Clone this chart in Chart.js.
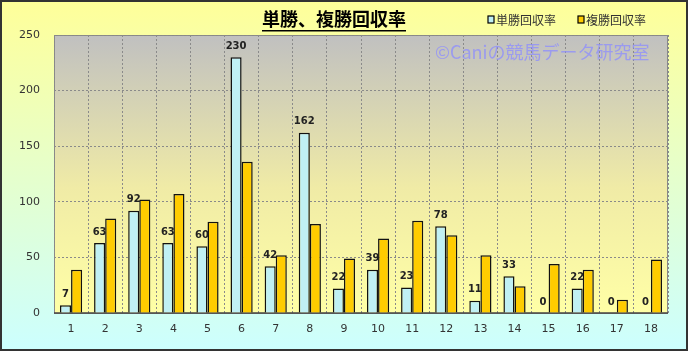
<!DOCTYPE html>
<html>
<head>
<meta charset="utf-8">
<script src="https://cdn.jsdelivr.net/npm/chart.js@4/dist/chart.umd.min.js"></script>
<style>
  html, body { margin: 0; padding: 0; background: #fff; }
  #wrap { width: 688px; height: 351px; }
</style>
</head>
<body>
<div id="wrap"><canvas id="kaishu"></canvas></div>
<script>
const categories = ['1','2','3','4','5','6','7','8','9','10','11','12','13','14','15','16','17','18'];
const tanshoValues = [7, 63, 92, 63, 60, 230, 42, 162, 22, 39, 23, 78, 11, 33, 0, 22, 0, 0];
const fukushoValues = [39, 85, 102, 107, 82, 136, 52, 80, 49, 67, 83, 70, 52, 24, 44, 39, 12, 48];
const yTicks = [0, 50, 100, 150, 200, 250];

const titleText = '単勝、複勝回収率';
const seriesNames = ['単勝回収率', '複勝回収率'];
const watermark = '©Caniの競馬データ研究室';

const JP = '"Noto Sans CJK JP", "DejaVu Sans", sans-serif';

// backgrounds (outer + plot area) before anything else
const backgrounds = {
    id: 'backgrounds',
    beforeDraw(chart) {
        const { ctx, width, height, chartArea: a } = chart;
        ctx.save();
        let g = ctx.createLinearGradient(0, 0, 0, height);
        g.addColorStop(0, '#FFFF99');
        g.addColorStop(1, '#CCFFFF');
        ctx.fillStyle = g;
        ctx.fillRect(0, 0, width, height);

        g = ctx.createLinearGradient(0, a.top, 0, a.bottom);
        g.addColorStop(0, '#C0C0C0');
        g.addColorStop(0.55, '#F0EBA6');
        g.addColorStop(1, '#FFFFA6');
        ctx.fillStyle = g;
        ctx.fillRect(a.left, a.top, a.right - a.left, a.bottom - a.top);

        ctx.strokeStyle = '#888';
        ctx.lineWidth = 1;
        ctx.strokeRect(a.left + 0.5, a.top + 0.5, a.right - a.left - 1, a.bottom - a.top);
        ctx.restore();
    },
    beforeDatasetsDraw(chart) {
        // solid base line
        const { ctx, chartArea: a } = chart;
        ctx.save();
        ctx.strokeStyle = '#444';
        ctx.lineWidth = 1.5;
        ctx.beginPath();
        ctx.moveTo(a.left, a.bottom);
        ctx.lineTo(a.right, a.bottom);
        ctx.stroke();
        ctx.restore();
    }
};

// title, legend, watermark, value labels, frame
const overlay = {
    id: 'overlay',
    afterDraw(chart) {
        const { ctx, width, height } = chart;
        ctx.save();

        // title
        ctx.font = 'bold 18px ' + JP;
        ctx.fillStyle = '#000';
        ctx.textAlign = 'center';
        ctx.textBaseline = 'middle';
        ctx.fillText(titleText, 334, 19);
        const tw = ctx.measureText(titleText).width;
        ctx.fillRect(334 - tw / 2, 30, tw, 1.5);

        // legend
        const cols = ['#C0F0F4', '#FFCC00'];
        const lx = [488, 578];
        ctx.font = '12px ' + JP;
        ctx.textAlign = 'left';
        for (let i = 0; i < 2; i++) {
            ctx.fillStyle = cols[i];
            ctx.fillRect(lx[i], 16, 6, 7);
            ctx.strokeStyle = '#000';
            ctx.lineWidth = 1.2;
            ctx.strokeRect(lx[i], 16, 6, 7);
            ctx.fillStyle = '#333';
            ctx.fillText(seriesNames[i], lx[i] + 8, 20);
        }

        // watermark
        ctx.font = '18px ' + JP;
        ctx.fillStyle = 'rgba(140,140,255,0.75)';
        ctx.textAlign = 'left';
        ctx.fillText(watermark, 435, 52);

        // value labels above 単勝 bars
        const meta = chart.getDatasetMeta(0);
        ctx.font = 'bold 10px "DejaVu Sans", sans-serif';
        ctx.fillStyle = '#222';
        ctx.textAlign = 'center';
        ctx.textBaseline = 'bottom';
        meta.data.forEach((bar, i) => {
            ctx.fillText(String(tanshoValues[i]), bar.x, bar.y - 6);
        });

        // outer frame
        ctx.strokeStyle = '#333';
        ctx.lineWidth = 2;
        ctx.strokeRect(1, 1, width - 2, height - 2);
        ctx.restore();
    }
};

new Chart(document.getElementById('kaishu'), {
    type: 'bar',
    data: {
        labels: categories,
        datasets: [{
            label: seriesNames[0],
            data: tanshoValues,
            backgroundColor: '#C0F0F4',
            borderColor: '#111',
            borderWidth: 1.5,
            categoryPercentage: 0.65,
            barPercentage: 1.0
        }, {
            label: seriesNames[1],
            data: fukushoValues,
            backgroundColor: '#FFCC00',
            borderColor: '#111',
            borderWidth: 1.5,
            categoryPercentage: 0.65,
            barPercentage: 1.0
        }]
    },
    options: {
        responsive: true,
        maintainAspectRatio: false,
        animation: false,
        layout: { padding: { top: 35, right: 20, left: 0, bottom: 0 } },
        plugins: {
            legend: { display: false },
            title: { display: false },
            tooltip: { enabled: false }
        },
        scales: {
            x: {
                afterFit(s) { s.height = 38; },
                grid: { offset: true, color: '#8a8a8a', drawTicks: false },
                border: { display: false, dash: [2, 2] },
                ticks: { color: '#333', padding: 10, font: { size: 11, family: '"DejaVu Sans", sans-serif' } }
            },
            y: {
                min: 0,
                max: 250,
                afterFit(s) { s.width = 54; },
                afterBuildTicks(s) { s.ticks = yTicks.map(v => ({ value: v })); },
                grid: { color: '#8a8a8a', drawTicks: false },
                border: { display: false, dash: [2, 2] },
                ticks: { color: '#333', padding: 14, font: { size: 11, family: '"DejaVu Sans", sans-serif' } }
            }
        },
        elements: { bar: { borderSkipped: 'bottom' } }
    },
    plugins: [backgrounds, overlay]
});
</script>
</body>
</html>
